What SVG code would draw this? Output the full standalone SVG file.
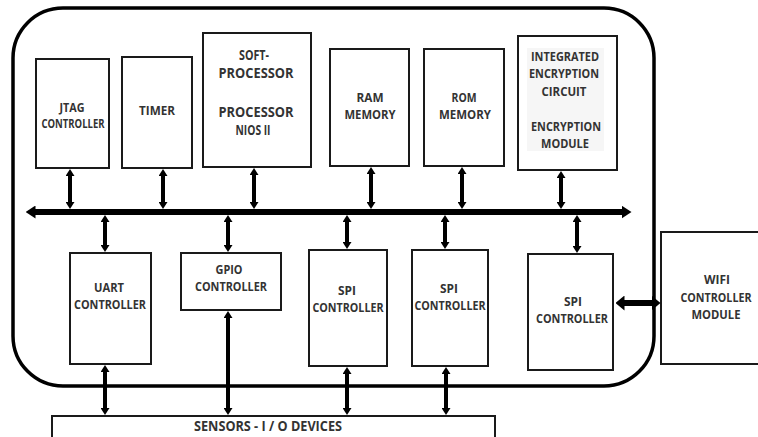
<svg xmlns="http://www.w3.org/2000/svg" width="758" height="437" viewBox="0 0 758 437">
<style>
.box{fill:#fff;stroke:#1a1a1a;stroke-width:2}
.t{font-family:"Open Sans","Liberation Sans",sans-serif;font-weight:bold;fill:#333;text-anchor:middle;font-size:12px}
.big{font-size:13.5px}
.c{stroke:#000;stroke-width:4;fill:none;marker-start:url(#sm);marker-end:url(#sm)}
</style>
<defs>
<marker id="sm" viewBox="0 0 7 9" markerWidth="7" markerHeight="9" refX="0" refY="4.5" orient="auto-start-reverse" markerUnits="userSpaceOnUse"><path d="M0,0 L7,4.5 L0,9 z" fill="#000"/></marker>
<marker id="bm" viewBox="0 0 10 13" markerWidth="10" markerHeight="13" refX="0.5" refY="6.5" orient="auto-start-reverse" markerUnits="userSpaceOnUse"><path d="M0,0 L10,6.5 L0,13 z" fill="#000"/></marker>
<marker id="wm" viewBox="0 0 9 15" markerWidth="9" markerHeight="15" refX="0.5" refY="7.5" orient="auto-start-reverse" markerUnits="userSpaceOnUse"><path d="M0,0 L9,7.5 L0,15 z" fill="#000"/></marker>
</defs>
<rect width="758" height="437" fill="#fff"/>
<g id="fpga">
<rect x="13" y="8" width="641" height="378" rx="50" ry="50" fill="none" stroke="#000" stroke-width="3.5"/>
</g>
<g id="jtag">
<rect class="box" x="36" y="59" width="73" height="109"/>
<text class="t" x="72" y="112" textLength="25" lengthAdjust="spacingAndGlyphs">JTAG</text>
<text class="t" x="73" y="128" textLength="63" lengthAdjust="spacingAndGlyphs">CONTROLLER</text>
</g>
<g id="timer">
<rect class="box" x="122" y="57" width="70" height="111"/>
<text class="t" x="157" y="115" textLength="36" lengthAdjust="spacingAndGlyphs">TIMER</text>
</g>
<g id="cpu">
<rect class="box" x="203" y="33" width="108" height="134"/>
<text class="t big" x="254" y="60" textLength="30" lengthAdjust="spacingAndGlyphs">SOFT-</text>
<text class="t big" x="256" y="78" textLength="75" lengthAdjust="spacingAndGlyphs">PROCESSOR</text>
<text class="t big" x="256" y="117" textLength="75" lengthAdjust="spacingAndGlyphs">PROCESSOR</text>
<text class="t big" x="253" y="135" textLength="35" lengthAdjust="spacingAndGlyphs">NIOS II</text>
</g>
<g id="ram">
<rect class="box" x="330" y="49" width="79" height="117"/>
<text class="t" x="370" y="102" textLength="27" lengthAdjust="spacingAndGlyphs">RAM</text>
<text class="t" x="370" y="119" textLength="51" lengthAdjust="spacingAndGlyphs">MEMORY</text>
</g>
<g id="rom">
<rect class="box" x="424" y="49" width="80" height="117"/>
<text class="t" x="464" y="102" textLength="25" lengthAdjust="spacingAndGlyphs">ROM</text>
<text class="t" x="465" y="119" textLength="52" lengthAdjust="spacingAndGlyphs">MEMORY</text>
</g>
<g id="encryption">
<rect class="box" x="518" y="36" width="99" height="134"/>
<rect x="527" y="48" width="77" height="103" fill="#f6f6f6"/>
<text class="t" x="565" y="61" textLength="68" lengthAdjust="spacingAndGlyphs">INTEGRATED</text>
<text class="t" x="564" y="78" textLength="70" lengthAdjust="spacingAndGlyphs">ENCRYPTION</text>
<text class="t" x="564" y="96" textLength="45" lengthAdjust="spacingAndGlyphs">CIRCUIT</text>
<text class="t" x="566" y="131" textLength="70" lengthAdjust="spacingAndGlyphs">ENCRYPTION</text>
<text class="t" x="565" y="148" textLength="48" lengthAdjust="spacingAndGlyphs">MODULE</text>
</g>
<g id="uart">
<rect class="box" x="70" y="253" width="81" height="111"/>
<text class="t" x="109" y="292" textLength="30" lengthAdjust="spacingAndGlyphs">UART</text>
<text class="t" x="110" y="309" textLength="72" lengthAdjust="spacingAndGlyphs">CONTROLLER</text>
</g>
<g id="gpio">
<rect class="box" x="181" y="253" width="100" height="57"/>
<text class="t" x="229" y="274" textLength="27" lengthAdjust="spacingAndGlyphs">GPIO</text>
<text class="t" x="231" y="291" textLength="72" lengthAdjust="spacingAndGlyphs">CONTROLLER</text>
</g>
<g id="spi1">
<rect class="box" x="309" y="250" width="78" height="116"/>
<text class="t" x="347" y="295" textLength="18" lengthAdjust="spacingAndGlyphs">SPI</text>
<text class="t" x="348" y="312" textLength="71" lengthAdjust="spacingAndGlyphs">CONTROLLER</text>
</g>
<g id="spi2">
<rect class="box" x="412" y="250" width="76" height="116"/>
<text class="t" x="449" y="293" textLength="18" lengthAdjust="spacingAndGlyphs">SPI</text>
<text class="t" x="450" y="310" textLength="71" lengthAdjust="spacingAndGlyphs">CONTROLLER</text>
</g>
<g id="spi3">
<rect class="box" x="528" y="254" width="85" height="116"/>
<text class="t" x="573" y="306" textLength="18" lengthAdjust="spacingAndGlyphs">SPI</text>
<text class="t" x="572" y="323" textLength="72" lengthAdjust="spacingAndGlyphs">CONTROLLER</text>
</g>
<g id="wifi">
<path d="M758,232 H661 V364 H758" fill="#fff" stroke="#1a1a1a" stroke-width="2"/>
<text class="t" x="717" y="284" textLength="26" lengthAdjust="spacingAndGlyphs">WIFI</text>
<text class="t" x="716" y="302" textLength="71" lengthAdjust="spacingAndGlyphs">CONTROLLER</text>
<text class="t" x="716" y="319" textLength="49" lengthAdjust="spacingAndGlyphs">MODULE</text>
</g>
<g id="sensors">
<rect class="box" x="52" y="416" width="443" height="40"/>
<text class="t big" x="268" y="431" textLength="148" lengthAdjust="spacingAndGlyphs">SENSORS - I / O DEVICES</text>
</g>
<g id="connectors">
<line x1="35" y1="212" x2="622" y2="212" stroke="#000" stroke-width="6" marker-start="url(#bm)" marker-end="url(#bm)"/>
<line class="c" x1="70" y1="176" x2="70" y2="202"/>
<line class="c" x1="163" y1="176" x2="163" y2="202"/>
<line class="c" x1="254" y1="175" x2="254" y2="202"/>
<line class="c" x1="371" y1="174" x2="371" y2="202"/>
<line class="c" x1="462" y1="174" x2="462" y2="202"/>
<line class="c" x1="561" y1="178" x2="561" y2="202"/>
<line class="c" x1="105" y1="222" x2="105" y2="245"/>
<line class="c" x1="228" y1="222" x2="228" y2="245"/>
<line class="c" x1="347" y1="222" x2="347" y2="242"/>
<line class="c" x1="445" y1="222" x2="445" y2="242"/>
<line class="c" x1="577" y1="222" x2="577" y2="246"/>
<line class="c" x1="105" y1="372" x2="105" y2="408"/>
<line class="c" x1="228" y1="318" x2="228" y2="408"/>
<line class="c" x1="347" y1="374" x2="347" y2="408"/>
<line class="c" x1="446" y1="374" x2="446" y2="408"/>
<line x1="624" y1="303" x2="652" y2="303" stroke="#000" stroke-width="6" marker-start="url(#wm)" marker-end="url(#wm)"/>
</g>
</svg>
